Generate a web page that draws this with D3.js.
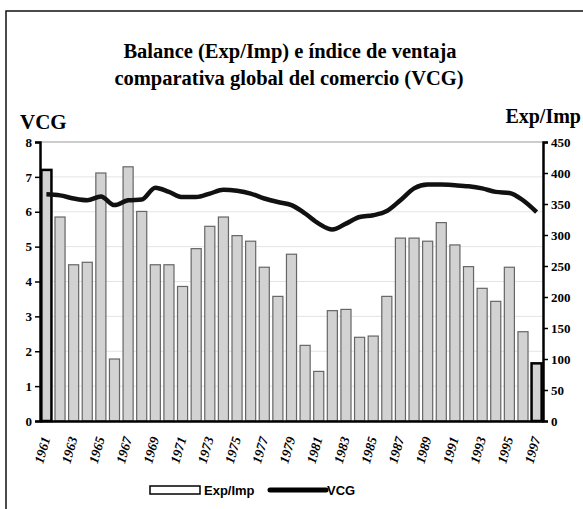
<!DOCTYPE html>
<html>
<head>
<meta charset="utf-8">
<script src="https://cdn.jsdelivr.net/npm/d3@7"></script>
<style>
  body { margin: 0; background: #fff; }
  svg text { font-family: "Liberation Serif", "Times New Roman", serif; font-weight: bold; }
</style>
</head>
<body>
<svg id="chart" width="583" height="509"></svg>
<script>
// years 1961..1997
var years = d3.range(1961, 1998);

// Exp/Imp balance (right axis)
var expImp = [405, 329, 252, 256, 400, 100, 410, 338, 252, 252,
              217, 278, 314, 329, 299, 290, 248, 201, 269, 122,
              80, 178, 180, 135, 137, 201, 295, 295, 290, 320,
              284, 249, 214, 193, 248, 144, 93];

// VCG index (left axis)
var vcg = [6.50, 6.47, 6.38, 6.33, 6.44, 6.19, 6.33, 6.35, 6.69, 6.57,
           6.42, 6.42, 6.52, 6.63, 6.60, 6.52, 6.38, 6.28, 6.19, 5.95,
           5.66, 5.49, 5.66, 5.85, 5.90, 6.02, 6.33, 6.67, 6.78, 6.78,
           6.76, 6.73, 6.67, 6.57, 6.54, 6.33, 5.99];

var leftTicks = [0, 1, 2, 3, 4, 5, 6, 7, 8];
var rightTicks = [0, 50, 100, 150, 200, 250, 300, 350, 400, 450];
var yearLabels = years.filter(function(y) { return (y - 1961) % 2 == 0; });

var svg = d3.select("#chart");

var plotLeft = 40, plotRight = 543, plotTop = 142, plotBottom = 421;

var x = d3.scaleBand().domain(years).range([plotLeft, plotRight]).paddingInner(0.26).paddingOuter(0.1);
var yL = d3.scaleLinear().domain([0, 8]).range([plotBottom, plotTop]);
var yR = d3.scaleLinear().domain([0, 450]).range([plotBottom, plotTop]);

// outer frame
svg.append("rect")
  .attr("x", 6).attr("y", 11).attr("width", 590).attr("height", 510)
  .attr("fill", "none").attr("stroke", "#111").attr("stroke-width", 1.5);

// title
svg.append("text").attr("x", 290).attr("y", 58).attr("text-anchor", "middle")
  .attr("font-size", 20.5).text("Balance (Exp/Imp) e índice de ventaja");
svg.append("text").attr("x", 289).attr("y", 85).attr("text-anchor", "middle")
  .attr("font-size", 20.5).text("comparativa global del comercio (VCG)");

svg.append("text").attr("x", 20).attr("y", 129).attr("font-size", 21).text("VCG");
svg.append("text").attr("x", 581).attr("y", 123).attr("text-anchor", "end")
  .attr("font-size", 20).text("Exp/Imp");

// gridlines
svg.append("g").selectAll("line")
  .data(leftTicks.slice(1)).enter()
  .append("line")
  .attr("x1", plotLeft).attr("x2", plotRight)
  .attr("y1", function(d) { return yL(d); })
  .attr("y2", function(d) { return yL(d); })
  .attr("stroke", function(d) { return d == 8 ? "#999" : "#e4e4e4"; })
  .attr("stroke-width", 1);

// bars
svg.append("g").selectAll("rect")
  .data(expImp).enter()
  .append("rect")
  .attr("x", function(d, i) { return x(years[i]); })
  .attr("width", x.bandwidth())
  .attr("y", function(d) { return yR(d); })
  .attr("height", function(d) { return plotBottom - yR(d); })
  .attr("fill", "#d2d2d2")
  .attr("stroke", function(d, i) { return (i == 0 || i == years.length - 1) ? "#000" : "#666"; })
  .attr("stroke-width", function(d, i) { return (i == 0 || i == years.length - 1) ? 2.5 : 1.2; });

// VCG line
var line = d3.line()
  .x(function(d, i) { return x(years[i]) + x.bandwidth() / 2; })
  .y(function(d) { return yL(d); })
  .curve(d3.curveMonotoneX);

svg.append("path")
  .datum(vcg)
  .attr("d", line)
  .attr("fill", "none")
  .attr("stroke", "#111")
  .attr("stroke-width", 4.5)
  .attr("stroke-linejoin", "round");

// axes
var axL = svg.append("g").attr("transform", "translate(" + plotLeft + ",0)")
  .call(d3.axisLeft(yL).tickValues(leftTicks).tickSize(5).tickFormat(d3.format("d")));
var axR = svg.append("g").attr("transform", "translate(" + plotRight + ",0)")
  .call(d3.axisRight(yR).tickValues(rightTicks).tickSize(5).tickFormat(d3.format("d")));
[axL, axR].forEach(function(ax) {
  ax.select(".domain").attr("stroke", "#000").attr("stroke-width", 2.5);
  ax.selectAll(".tick line").attr("stroke", "#000").attr("stroke-width", 1.5);
  ax.selectAll(".tick text").attr("font-size", 13).attr("fill", "#000")
    .style("font-family", "Liberation Serif").style("font-weight", "bold");
});

var axB = svg.append("g").attr("transform", "translate(0," + plotBottom + ")")
  .call(d3.axisBottom(x).tickValues(yearLabels).tickSize(0));
axB.select(".domain").attr("stroke", "#000").attr("stroke-width", 2.5);
axB.selectAll(".tick text")
  .attr("font-size", 13.5).attr("fill", "#000")
  .style("font-family", "Liberation Serif").style("font-weight", "bold").style("font-style", "italic")
  .attr("text-anchor", "end")
  .attr("dy", "0.35em")
  .attr("transform", "translate(0,14) rotate(-74)")
  .attr("x", -2).attr("y", 0);

// legend
var lg = svg.append("g");
lg.append("rect").attr("x", 150).attr("y", 486).attr("width", 50).attr("height", 8)
  .attr("fill", "#fff").attr("stroke", "#000").attr("stroke-width", 1.5);
lg.append("text").attr("x", 204).attr("y", 495).attr("font-size", 13)
  .style("font-family", "Liberation Sans").text("Exp/Imp");
lg.append("line").attr("x1", 270).attr("x2", 326).attr("y1", 490).attr("y2", 490)
  .attr("stroke", "#000").attr("stroke-width", 5).attr("stroke-linecap", "round");
lg.append("text").attr("x", 327).attr("y", 495).attr("font-size", 13)
  .style("font-family", "Liberation Sans").text("VCG");
</script>
</body>
</html>
